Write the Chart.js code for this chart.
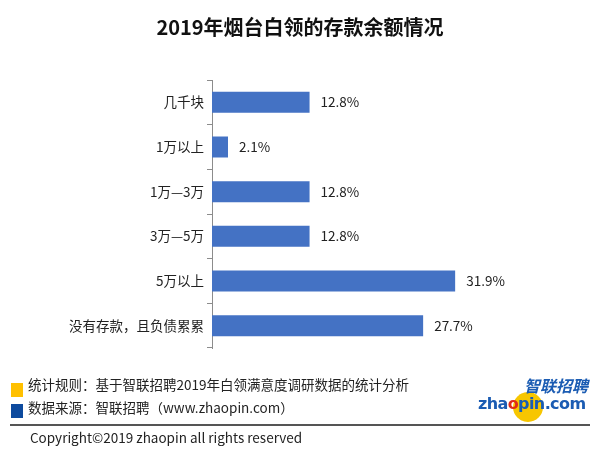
<!DOCTYPE html>
<html>
<head>
<meta charset="utf-8">
<script src="https://cdn.jsdelivr.net/npm/chart.js@4"></script>
<style>
  body { margin: 0; background: #fff; }
  #wrap { position: relative; width: 600px; height: 460px; background: #fff;
          font-family: "Noto Sans CJK SC", "Noto Sans", sans-serif; color: #222; }
  #chart { position: absolute; left: 0; top: 0; }
  .abs { position: absolute; white-space: nowrap; }
  #title { left: 0; width: 600px; top: 12px; text-align: center; font-size: 20px; font-weight: bold; color: #111; }
  .sq { position: absolute; width: 12px; height: 14px; }
  .note { font-size: 13.5px; line-height: 16px; }
  #rule { position: absolute; left: 10px; top: 424px; width: 580px; height: 2px; background: #555; }
  #logo1 { left: 524px; top: 373px; font-size: 16px; font-weight: bold; font-style: italic; color: #1b5cb3; }
  #dot { position: absolute; left: 513px; top: 392px; width: 30px; height: 30px; border-radius: 50%; background: #f7c600; }
  #logo2 { left: 478px; top: 394px; font-family: "DejaVu Sans", sans-serif; font-size: 16px; font-weight: bold; color: #1b5cb3; letter-spacing: -0.6px; }
  #logo2 span { color: #e02a1a; }
</style>
</head>
<body>
<div id="wrap">
  <canvas id="chart" width="600" height="460"></canvas>
  <div id="title" class="abs">2019年烟台白领的存款余额情况</div>

  <div class="sq" style="left:11px; top:383px; background:#ffc000;"></div>
  <div class="sq" style="left:11px; top:404px; background:#0d4a9e;"></div>
  <div class="abs note" style="left:28px; top:376px;">统计规则：基于智联招聘2019年白领满意度调研数据的统计分析</div>
  <div class="abs note" style="left:28px; top:399px;">数据来源：智联招聘（www.zhaopin.com）</div>
  <div id="rule"></div>
  <div class="abs note" style="left:30px; top:429px;">Copyright©2019 zhaopin all rights reserved</div>

  <div id="dot"></div>
  <div id="logo1" class="abs">智联招聘</div>
  <div id="logo2" class="abs">zha<span>o</span>pin.com</div>
</div>

<script>
// categories and values, top to bottom
const categories = ['几千块', '1万以上', '1万—3万', '3万—5万', '5万以上', '没有存款，且负债累累'];
const shares = [12.8, 2.1, 12.8, 12.8, 31.9, 27.7];

const barColor = '#4472c4';
const axisColor = '#8c8c8c';

// draws "12.8%" to the right of each bar
const valueLabels = {
    id: 'valueLabels',
    afterDatasetsDraw(chart) {
        const ctx = chart.ctx;
        const meta = chart.getDatasetMeta(0);
        ctx.save();
        ctx.font = '13.5px "Noto Sans CJK SC", sans-serif';
        ctx.fillStyle = '#222';
        ctx.textAlign = 'left';
        ctx.textBaseline = 'middle';
        meta.data.forEach((bar, i) => {
            ctx.fillText(shares[i].toFixed(1) + '%', bar.x + 11, bar.y);
        });
        ctx.restore();
    }
};

new Chart(document.getElementById('chart'), {
    type: 'bar',
    data: {
        labels: categories,
        datasets: [{
            data: shares,
            backgroundColor: barColor,
            borderWidth: 0,
            barPercentage: 0.47,
            categoryPercentage: 1.0
        }]
    },
    options: {
        indexAxis: 'y',
        responsive: false,
        animation: false,
        layout: { padding: { top: 80, bottom: 112, right: 45, left: 0 } },
        plugins: {
            legend: { display: false },
            tooltip: { enabled: false }
        },
        scales: {
            x: {
                display: false,
                min: 0,
                max: 45
            },
            y: {
                afterFit(scale) { scale.width = 212; },
                border: { display: true, color: axisColor, width: 1 },
                grid: {
                    offset: true,
                    drawOnChartArea: false,
                    drawTicks: true,
                    tickLength: 5,
                    color: axisColor
                },
                ticks: {
                    color: '#222',
                    padding: 3,
                    font: { family: '"Noto Sans CJK SC", sans-serif', size: 13.5 }
                }
            }
        }
    },
    plugins: [valueLabels]
});
</script>
</body>
</html>
